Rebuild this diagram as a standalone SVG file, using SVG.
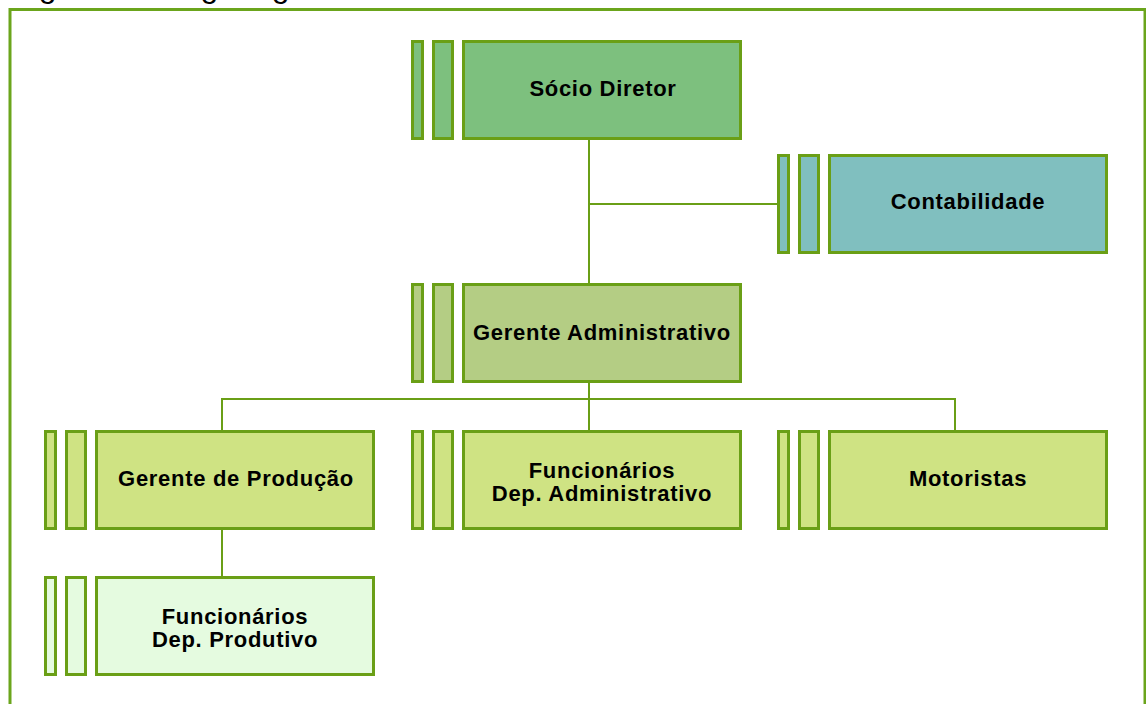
<svg xmlns="http://www.w3.org/2000/svg" width="1146" height="704" viewBox="0 0 1146 704">
<style>
.box{stroke:#6a9f16;stroke-width:3}
.l1{fill:#7dc07e}
.l1b{fill:#80bfbf}
.l2{fill:#b4cd84}
.l3{fill:#cfe383}
.l4{fill:#e5fbe0}
.lbl{font-family:"Liberation Sans",Arial,sans-serif;font-weight:bold;font-size:22px;letter-spacing:0.7px;fill:#000;text-anchor:middle}
.conn{stroke:#6a9f16;stroke-width:2;fill:none}
</style>
<rect width="1146" height="704" fill="#ffffff"/>
<text x="12" y="-3.5" font-family="'Liberation Sans',Arial,sans-serif" font-size="32" fill="#000">Figura 1 – Organograma</text>
<rect x="10" y="9.5" width="1135" height="720" fill="none" stroke="#6ba51c" stroke-width="3"/>
<g id="connectors" class="conn">
<line x1="589" y1="140" x2="589" y2="283"/>
<line x1="589" y1="204" x2="779" y2="204"/>
<line x1="589" y1="382" x2="589" y2="430"/>
<line x1="221" y1="399" x2="956" y2="399"/>
<line x1="222" y1="398" x2="222" y2="430"/>
<line x1="955" y1="398" x2="955" y2="430"/>
<line x1="222" y1="530" x2="222" y2="576"/>
</g>
<g id="socio-diretor" class="l1">
<rect class="box" x="412.5" y="41.5" width="10" height="97"/>
<rect class="box" x="433.5" y="41.5" width="19" height="97"/>
<rect class="box" x="463.5" y="41.5" width="277" height="97"/>
<text class="lbl" x="603" y="96">Sócio Diretor</text>
</g>
<g id="contabilidade" class="l1b">
<rect class="box" x="778.5" y="155.5" width="10" height="97"/>
<rect class="box" x="799.5" y="155.5" width="19" height="97"/>
<rect class="box" x="829.5" y="155.5" width="277" height="97"/>
<text class="lbl" x="968" y="209">Contabilidade</text>
</g>
<g id="gerente-administrativo" class="l2">
<rect class="box" x="412.5" y="284.5" width="10" height="97"/>
<rect class="box" x="433.5" y="284.5" width="19" height="97"/>
<rect class="box" x="463.5" y="284.5" width="277" height="97"/>
<text class="lbl" x="602" y="340">Gerente Administrativo</text>
</g>
<g id="gerente-producao" class="l3">
<rect class="box" x="45.5" y="431.5" width="10" height="97"/>
<rect class="box" x="66.5" y="431.5" width="19" height="97"/>
<rect class="box" x="96.5" y="431.5" width="277" height="97"/>
<text class="lbl" x="236" y="486">Gerente de Produção</text>
</g>
<g id="funcionarios-adm" class="l3">
<rect class="box" x="412.5" y="431.5" width="10" height="97"/>
<rect class="box" x="433.5" y="431.5" width="19" height="97"/>
<rect class="box" x="463.5" y="431.5" width="277" height="97"/>
<text class="lbl" x="602" y="478">Funcionários</text>
<text class="lbl" x="602" y="501">Dep. Administrativo</text>
</g>
<g id="motoristas" class="l3">
<rect class="box" x="778.5" y="431.5" width="10" height="97"/>
<rect class="box" x="799.5" y="431.5" width="19" height="97"/>
<rect class="box" x="829.5" y="431.5" width="277" height="97"/>
<text class="lbl" x="968" y="486">Motoristas</text>
</g>
<g id="funcionarios-prod" class="l4">
<rect class="box" x="45.5" y="577.5" width="10" height="97"/>
<rect class="box" x="66.5" y="577.5" width="19" height="97"/>
<rect class="box" x="96.5" y="577.5" width="277" height="97"/>
<text class="lbl" x="235" y="624">Funcionários</text>
<text class="lbl" x="235" y="647">Dep. Produtivo</text>
</g>
</svg>
